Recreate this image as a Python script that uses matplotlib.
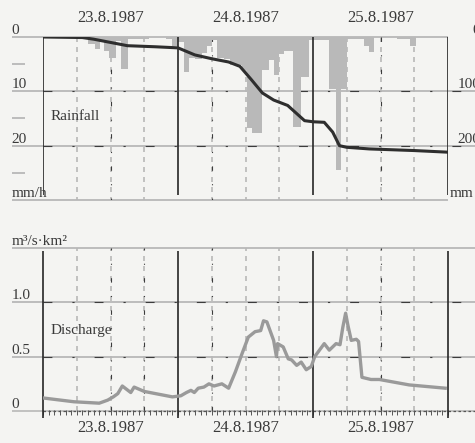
import numpy as np
import matplotlib
matplotlib.use("Agg")
from matplotlib import pyplot as plt

# rainfall intensity (mm/h), as steps between edges in hours from 23.8.1987 00:00
rain_edges = [0, 8.0, 9.2, 10.1, 10.9, 11.8, 12.9, 13.9, 15.1, 18.9, 21.8, 23.0,
              24.0, 25.0, 26.0, 27.0, 28.2, 29.1, 30.0, 31.0, 32.1, 33.2, 35.4,
              36.3, 37.2, 39.0, 40.2, 41.0, 42.0, 42.8, 44.4, 45.8, 47.3, 48.2,
              50.9, 52.1, 53.0, 54.0, 57.1, 58.0, 58.9, 63.0, 65.2, 66.3, 72]
rain_mm = [0, 1.2, 2.3, 0.8, 2.6, 3.8, 0.7, 5.9, 0.3, 0, 0.4,
           1.7, 1.0, 6.5, 3.8, 4.1, 2.9, 1.7, 0.5, 3.8, 4.0, 5.2,
           6.1, 16.8, 17.7, 6.1, 4.3, 7.0, 3.1, 2.5, 16.6, 7.3, 0.5,
           0.6, 9.5, 24.5, 9.5, 0.3, 1.6, 2.7, 0, 0.3, 1.6, 0]

# cumulative rainfall (mm), right scale
cum_t = [0, 7, 9, 12, 15, 20, 24, 27, 30, 33, 35, 37, 39, 41, 43.5, 45, 46.5,
         48, 50, 51.5, 52.7, 54, 58, 66, 72]
cum_mm = [0, 1, 4, 10, 16, 18, 20, 33, 40, 46, 54, 78, 103, 116, 126, 140, 154,
          156, 157, 175, 200, 203, 206, 209, 212]

# specific discharge (m3/s km2)
q_t = [0, 5.5, 10, 11.5, 12.5, 13.3, 14.1, 15.6, 16.2, 18, 23, 24.5, 25.5, 26.3,
       26.9, 27.6, 28.6, 29.5, 30.4, 31.8, 33, 34.2, 35.4, 36.5, 37.7, 38.7,
       39.2, 39.8, 41, 41.5, 41.7, 42.7, 43.6, 44.2, 45.1, 45.9, 46.8, 47.7,
       48.3, 50, 50.9, 52.1, 52.8, 53.3, 53.8, 54.2, 54.8, 55.7, 56.1, 56.7,
       58.3, 59.8, 65.1, 71.5]
q_val = [0.12, 0.085, 0.072, 0.10, 0.13, 0.16, 0.23, 0.17, 0.22, 0.18, 0.13,
         0.14, 0.17, 0.19, 0.17, 0.21, 0.22, 0.25, 0.23, 0.25, 0.21, 0.36, 0.53,
         0.68, 0.73, 0.74, 0.83, 0.82, 0.65, 0.50, 0.62, 0.59, 0.48, 0.47, 0.42,
         0.45, 0.38, 0.41, 0.50, 0.62, 0.56, 0.62, 0.61, 0.77, 0.90, 0.79, 0.65,
         0.66, 0.64, 0.31, 0.29, 0.29, 0.24, 0.21]

days = ["23.8.1987", "24.8.1987", "25.8.1987"]
day_mid = [12, 36, 60]
day_bounds = [0, 24, 48, 72]
six_h = [6, 12, 18, 30, 36, 42, 54, 60, 66]

top_labels = [(0, "0"), (10, "10"), (20, "20"), (30, "mm/h")]
top_right = [(0, "0"), (10, "100"), (20, "200")]
bot_labels = [(0, "0"), (0.5, "0.5"), (1.0, "1.0"), (1.5, "m³/s·km²")]

plt.rcParams['font.family'] = ['Liberation Serif', 'DejaVu Serif']
txt = '#3a3a3a'
grey = '#b8b8b8'
dark = '#3c3c3c'
fs = 11

fig = plt.figure(figsize=(4.75, 4.43), dpi=100, facecolor='#f4f4f2')
W, H = 475, 443
ax1 = fig.add_axes([43 / W, 1 - 200 / H, 405 / W, 163 / H])
ax2 = fig.add_axes([43 / W, 1 - 411 / H, 405 / W, 163 / H])

for ax in (ax1, ax2):
    ax.set_xlim(0, 72)
    ax.set_facecolor('none')
    for s in ax.spines.values():
        s.set_visible(False)
    ax.set_xticks([])
    ax.set_yticks([])

ax1.set_ylim(30, 0)
ax2.set_ylim(0, 1.5)

yt1 = ax1.get_yaxis_transform()
yt2 = ax2.get_yaxis_transform()
xt1 = ax1.get_xaxis_transform()
xt2 = ax2.get_xaxis_transform()

# ---- rainfall panel
ax1.hlines([0, 30], -0.077, 1.0, transform=yt1, color=grey, lw=1.3, clip_on=False, zorder=1)
ax1.hlines([10, 20], -0.077, 1.08, transform=yt1, color=grey, lw=1.3, clip_on=False, zorder=1)
ax1.hlines([10, 20], 0, 1.08, transform=yt1, color=dark, lw=0.8, clip_on=False,
           linestyles=[(0, (8, 18, 2, 18))], zorder=1)
ax1.hlines([5, 15, 25], -0.077, -0.045, transform=yt1, color=grey, lw=1.3, clip_on=False)
ax1.vlines(six_h, 0, 30, color=grey, lw=1.2, linestyles=[(0, (3, 3))], zorder=1)
ax1.vlines([12, 30, 60], 0, 30, color=dark, lw=0.8, linestyles=[(0, (4, 12, 1, 12))], zorder=1)
ax1.vlines(day_bounds, -0.3, 29, color='#262626', lw=1.2, zorder=3)

ax1.stairs(rain_mm, rain_edges, fill=True, color='#b9b9b9', baseline=0, zorder=2)
ax1t = ax1.twinx()
ax1t.set_ylim(300, 0)
ax1t.axis('off')
ax1t.plot(cum_t, cum_mm, color='#2e2e2e', lw=2.2, zorder=4)

for v, s in top_labels:
    ax1.text(-0.078, v, s, transform=yt1, ha='left', va='bottom', fontsize=fs, color=txt)
for v, s in top_right:
    ax1.text(1.08, v, s, transform=yt1, ha='right', va='bottom', fontsize=fs, color=txt)
ax1.text(1.003, 30, "mm", transform=yt1, ha='left', va='bottom', fontsize=fs, color=txt)
ax1.text(1.3, 14.7, "Rainfall", ha='left', va='center', fontsize=fs, color=txt)
for m, d in zip(day_mid, days):
    ax1.text(m, 1.115, d, transform=xt1, ha='center', va='center', fontsize=12, color=txt)

# ---- discharge panel
ax2.hlines([1.5], -0.077, 1.08, transform=yt2, color=grey, lw=1.3, clip_on=False, zorder=1)
ax2.hlines([0.5, 1.0], -0.077, 1.08, transform=yt2, color=grey, lw=1.3, clip_on=False, zorder=1)
ax2.hlines([0.5, 1.0], 0, 1.08, transform=yt2, color=dark, lw=0.8, clip_on=False,
           linestyles=[(0, (8, 18, 2, 18))], zorder=1)
ax2.hlines([0], -0.077, 1.08, transform=yt2, color=grey, lw=1.2, clip_on=False, zorder=1)
ax2.hlines([0], 0, 1.08, transform=yt2, color='#555555', lw=0.9, clip_on=False,
           linestyles=[(0, (2, 2))], zorder=1)
ax2.vlines(np.arange(0, 73), -0.035, 0.005, color='#555555', lw=0.7, clip_on=False)
ax2.vlines(six_h, 0, 1.5, color=grey, lw=1.2, linestyles=[(0, (3, 3))], zorder=1)
ax2.vlines([12, 18, 30, 60], 0, 1.5, color=dark, lw=0.8, linestyles=[(0, (4, 12, 1, 12))], zorder=1)
ax2.vlines(day_bounds, -0.06, 1.47, color='#262626', lw=1.2, clip_on=False, zorder=3)

ax2.plot(q_t, q_val, color='#9a9a9a', lw=2.4, zorder=4)

for v, s in bot_labels:
    ax2.text(-0.078, v, s, transform=yt2, ha='left', va='bottom', fontsize=fs, color=txt)
ax2.text(1.3, 0.745, "Discharge", ha='left', va='center', fontsize=fs, color=txt)
for m, d in zip(day_mid, days):
    ax2.text(m, -0.105, d, transform=xt2, ha='center', va='center', fontsize=12, color=txt)

fig.savefig("out.png", dpi=100, facecolor=fig.get_facecolor())
